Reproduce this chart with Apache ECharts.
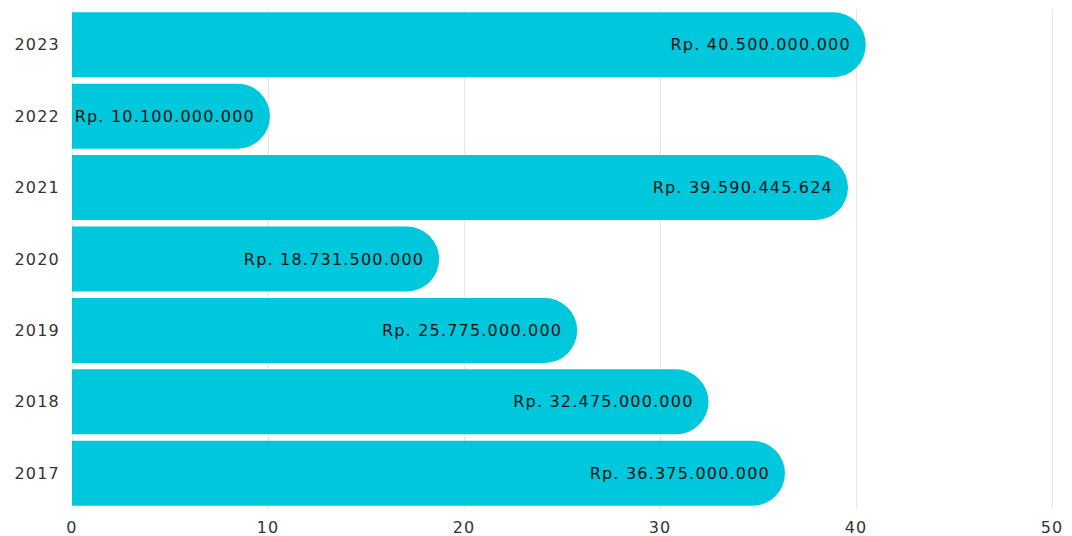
<!DOCTYPE html>
<html>
<head>
<meta charset="utf-8">
<script src="https://cdn.jsdelivr.net/npm/echarts@6/dist/echarts.min.js"></script>
<style>
    html, body { margin: 0; padding: 0; background: #fff; }
    #chart { width: 1072px; height: 536px; }
    /* the original font is a wide one, spread the glyphs a bit */
    #chart text { letter-spacing: 1.2px !important; }
</style>
</head>
<body>
<div id="chart"></div>
<script>
    // data (rupiah), bottom to top
    var years = ['2017', '2018', '2019', '2020', '2021', '2022', '2023'];
    var amounts = [36375000000, 32475000000, 25775000000, 18731500000, 39590445624, 10100000000, 40500000000];
    var xTicks = [0, 10, 20, 30, 40, 50];

    function rupiah(v) {
        return 'Rp. ' + String(v).replace(/\B(?=(\d{3})+(?!\d))/g, '.');
    }

    var chart = echarts.init(document.getElementById('chart'), null, { renderer: 'svg' });
    chart.setOption({
        animation: false,
        textStyle: { fontFamily: '"DejaVu Sans", sans-serif' },
        grid: { left: 72, right: 20, top: 9, bottom: 27 },
        xAxis: {
            type: 'value',
            min: xTicks[0],
            max: xTicks[xTicks.length - 1],
            interval: 10,
            axisLine: { show: false },
            axisTick: { show: false },
            axisLabel: { color: '#333', fontSize: 16, margin: 10 },
            splitLine: { lineStyle: { color: '#e8e8e8', width: 1 } }
        },
        yAxis: {
            type: 'category',
            data: years,
            axisLine: { show: true, lineStyle: { color: '#e8e8e8' } },
            axisTick: { show: false },
            axisLabel: { color: '#333', fontSize: 16, margin: 12 }
        },
        series: [{
            type: 'bar',
            barCategoryGap: '9%',
            data: amounts.map(function (v) { return { value: v / 1e9, raw: v }; }),
            itemStyle: { color: '#00c8dc', borderRadius: [0, 40, 40, 0] },
            label: {
                show: true,
                position: 'insideRight',
                distance: 15,
                color: '#111',
                fontSize: 16,
                formatter: function (p) { return rupiah(p.data.raw); }
            }
        }]
    });
</script>
</body>
</html>
